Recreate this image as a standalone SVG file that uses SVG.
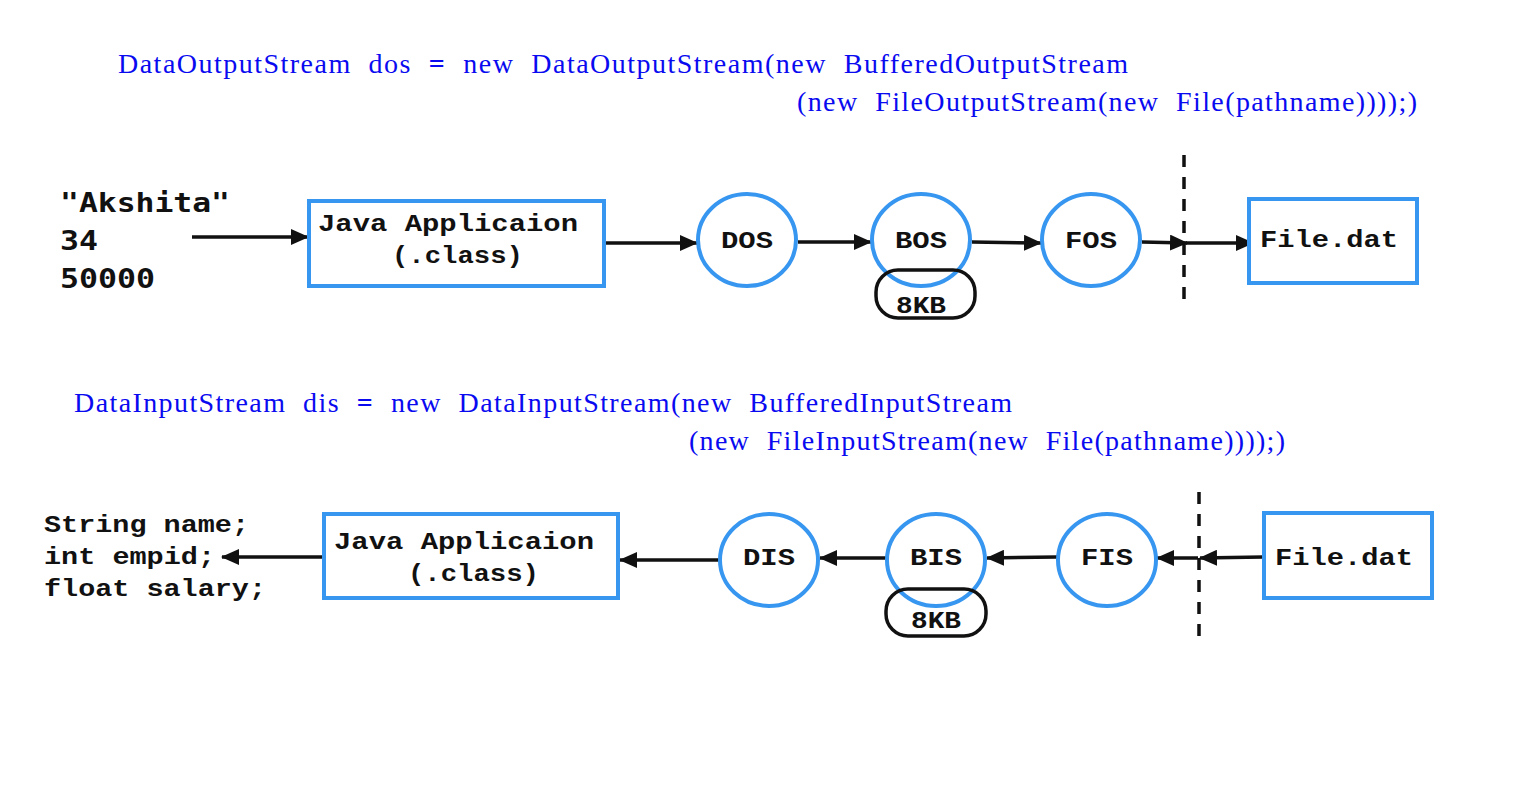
<svg xmlns="http://www.w3.org/2000/svg" width="1528" height="795" viewBox="0 0 1528 795">
<style>
.code{font-family:"Liberation Serif","DejaVu Serif",serif;font-size:28px;fill:#0a0af0}
.eq{font-weight:bold}
.mono{font-family:"Liberation Mono","DejaVu Sans Mono",monospace;font-weight:bold;font-size:23px;fill:#111}
.sans{font-family:"DejaVu Sans Mono","Liberation Mono",monospace;font-weight:bold;font-size:27px;fill:#111}
.box{fill:#fff;stroke:#3796f0;stroke-width:4}
.buf{fill:none;stroke:#111;stroke-width:3.5}
.con{stroke:#111;stroke-width:3.5;fill:none}
.dash{stroke:#111;stroke-width:3.5;stroke-dasharray:12 10}
</style>
<defs>
<marker id="ah" markerUnits="userSpaceOnUse" markerWidth="18" markerHeight="16" refX="17" refY="8" orient="auto">
<path d="M0,0 L18,8 L0,16 Z" fill="#111"/>
</marker>
</defs>
<rect width="1528" height="795" fill="#fff"/>

<g id="code-text">
<text class="code" x="118" y="73" textLength="1010" lengthAdjust="spacing" xml:space="preserve">DataOutputStream  dos  <tspan class="eq">=</tspan>  new  DataOutputStream(new  BufferedOutputStream</text>
<text class="code" x="797" y="111" textLength="620" lengthAdjust="spacing" xml:space="preserve">(new  FileOutputStream(new  File(pathname))));)</text>
<text class="code" x="74" y="412" textLength="938" lengthAdjust="spacing" xml:space="preserve">DataInputStream  dis  <tspan class="eq">=</tspan>  new  DataInputStream(new  BufferedInputStream</text>
<text class="code" x="689" y="450" textLength="596" lengthAdjust="spacing" xml:space="preserve">(new  FileInputStream(new  File(pathname))));)</text>
</g>

<g id="connectors">
<line class="con" x1="192" y1="237" x2="308" y2="237" marker-end="url(#ah)"/>
<line class="con" x1="604" y1="243" x2="697" y2="243" marker-end="url(#ah)"/>
<line class="con" x1="798" y1="242" x2="871" y2="242" marker-end="url(#ah)"/>
<line class="con" x1="972" y1="242" x2="1041" y2="243" marker-end="url(#ah)"/>
<line class="con" x1="1142" y1="242" x2="1187" y2="243" marker-end="url(#ah)"/>
<line class="con" x1="1186" y1="243" x2="1253" y2="243" marker-end="url(#ah)"/>
<line class="dash" x1="1184" y1="155" x2="1184" y2="300"/>

<line class="con" x1="324" y1="557" x2="222" y2="557" marker-end="url(#ah)"/>
<line class="con" x1="719" y1="560" x2="620" y2="560" marker-end="url(#ah)"/>
<line class="con" x1="887" y1="558" x2="820" y2="558" marker-end="url(#ah)"/>
<line class="con" x1="1057" y1="557" x2="987" y2="558" marker-end="url(#ah)"/>
<line class="con" x1="1198" y1="558" x2="1157" y2="558" marker-end="url(#ah)"/>
<line class="con" x1="1263" y1="557" x2="1200" y2="558" marker-end="url(#ah)"/>
<line class="dash" x1="1199" y1="492" x2="1199" y2="640"/>
</g>

<g id="input-values">
<text class="sans" x="60" y="212" textLength="170" lengthAdjust="spacingAndGlyphs">"Akshita"</text>
<text class="sans" x="60" y="250" textLength="38" lengthAdjust="spacingAndGlyphs">34</text>
<text class="sans" x="60" y="288" textLength="95" lengthAdjust="spacingAndGlyphs">50000</text>
</g>

<g id="java-app-out">
<rect class="box" x="309" y="201" width="295" height="85"/>
<text class="mono" x="318" y="231" textLength="260" lengthAdjust="spacingAndGlyphs">Java Applicaion</text>
<text class="mono" x="392" y="263" textLength="131" lengthAdjust="spacingAndGlyphs">(.class)</text>
</g>

<g id="dos">
<ellipse class="box" cx="747" cy="240" rx="49" ry="46"/>
<text class="mono" x="747" y="248" text-anchor="middle" textLength="52" lengthAdjust="spacingAndGlyphs">DOS</text>
</g>

<g id="bos">
<ellipse class="box" cx="921" cy="240" rx="49" ry="46"/>
<text class="mono" x="921" y="248" text-anchor="middle" textLength="52" lengthAdjust="spacingAndGlyphs">BOS</text>
<rect class="buf" x="876" y="270" width="99" height="48" rx="22"/>
<text class="mono" x="921" y="313" text-anchor="middle" textLength="50" lengthAdjust="spacingAndGlyphs">8KB</text>
</g>

<g id="fos">
<ellipse class="box" cx="1091" cy="240" rx="49" ry="46"/>
<text class="mono" x="1091" y="248" text-anchor="middle" textLength="52" lengthAdjust="spacingAndGlyphs">FOS</text>
</g>

<g id="file-out">
<rect class="box" x="1249" y="199" width="168" height="84"/>
<text class="mono" x="1260" y="247" textLength="138" lengthAdjust="spacingAndGlyphs">File.dat</text>
</g>

<g id="output-vars">
<text class="mono" x="44" y="532" textLength="205" lengthAdjust="spacingAndGlyphs">String name;</text>
<text class="mono" x="44" y="564" textLength="171" lengthAdjust="spacingAndGlyphs">int empid;</text>
<text class="mono" x="44" y="596" textLength="222" lengthAdjust="spacingAndGlyphs">float salary;</text>
</g>

<g id="java-app-in">
<rect class="box" x="324" y="514" width="294" height="84"/>
<text class="mono" x="334" y="549" textLength="260" lengthAdjust="spacingAndGlyphs">Java Applicaion</text>
<text class="mono" x="408" y="581" textLength="131" lengthAdjust="spacingAndGlyphs">(.class)</text>
</g>

<g id="dis">
<ellipse class="box" cx="769" cy="560" rx="49" ry="46"/>
<text class="mono" x="769" y="565" text-anchor="middle" textLength="52" lengthAdjust="spacingAndGlyphs">DIS</text>
</g>

<g id="bis">
<ellipse class="box" cx="936" cy="560" rx="49" ry="46"/>
<text class="mono" x="936" y="565" text-anchor="middle" textLength="52" lengthAdjust="spacingAndGlyphs">BIS</text>
<rect class="buf" x="886" y="589" width="100" height="47" rx="22"/>
<text class="mono" x="936" y="628" text-anchor="middle" textLength="50" lengthAdjust="spacingAndGlyphs">8KB</text>
</g>

<g id="fis">
<ellipse class="box" cx="1107" cy="560" rx="49" ry="46"/>
<text class="mono" x="1107" y="565" text-anchor="middle" textLength="52" lengthAdjust="spacingAndGlyphs">FIS</text>
</g>

<g id="file-in">
<rect class="box" x="1264" y="513" width="168" height="85"/>
<text class="mono" x="1275" y="565" textLength="138" lengthAdjust="spacingAndGlyphs">File.dat</text>
</g>
</svg>
